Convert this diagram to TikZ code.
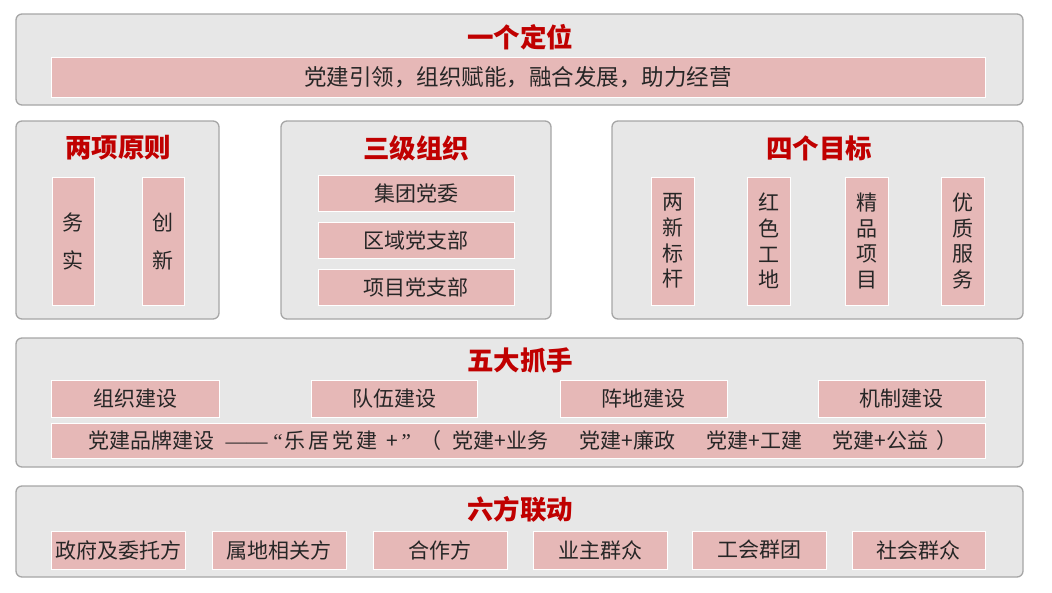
\documentclass[tikz,border=0pt]{standalone}
\usepackage{fontspec}
\setmainfont{Noto Sans CJK SC}
\newfontfamily\latinpunct{Liberation Serif}
\definecolor{panelfill}{HTML}{E7E7E7}
\definecolor{paneldraw}{HTML}{A6A6A6}
\definecolor{pinkfill}{HTML}{E6B8B7}
\definecolor{titlered}{HTML}{C00000}
\definecolor{bodytext}{HTML}{262626}
\tikzset{
  panel/.style={draw=paneldraw, line width=1.3pt, fill=panelfill, rounded corners=6pt, inner sep=0pt},
  pinkbar/.style={draw=white, line width=1pt, fill=pinkfill, inner sep=0pt, text=bodytext, font=\fontsize{21}{24}\selectfont},
  paneltitle/.style={text=titlered, font=\fontsize{26.5}{30}\selectfont\bfseries, inner sep=0pt},
  colbar/.style={pinkbar, align=center, minimum width=43pt, minimum height=128pt},
}
\begin{document}
\begin{tikzpicture}[x=1pt,y=-1pt]
\useasboundingbox (0,0) rectangle (1052,592);
\fill[white] (0,0) rectangle (1052,592);
% panels
\node[panel, minimum width=1007pt, minimum height=91pt] (pTop) at (519.5,59.5) {};
\node[panel, minimum width=203pt, minimum height=198pt] (pA) at (117.5,220) {};
\node[panel, minimum width=270pt, minimum height=198pt] (pB) at (416,220) {};
\node[panel, minimum width=411pt, minimum height=198pt] (pC) at (817.5,220) {};
\node[panel, minimum width=1007pt, minimum height=129pt] (pD) at (519.5,402.5) {};
\node[panel, minimum width=1007pt, minimum height=91pt] (pE) at (519.5,531.5) {};
% titles
\node[paneltitle] (tTop) at (520,37) {一个定位};
\node[paneltitle] (tA) at (118,148) {两项原则};
\node[paneltitle] (tB) at (416,148) {三级组织};
\node[paneltitle] (tC) at (819,148) {四个目标};
\node[paneltitle] (tD) at (520,360) {五大抓手};
\node[paneltitle] (tE) at (520,509) {六方联动};
% top bar
\node[pinkbar, minimum width=934pt, minimum height=40pt, font=\fontsize{22.5}{26}\selectfont] (bTop) at (518,77) {党建引领，组织赋能，融合发展，助力经营};
% two principles
\node[colbar, minimum width=42pt, font=\fontsize{21}{38}\selectfont] (a1) at (73,241) {务\\实};
\node[colbar, minimum width=42pt, font=\fontsize{21}{38}\selectfont] (a2) at (163,241) {创\\新};
% three levels
\node[pinkbar, minimum width=196pt, minimum height=36pt] (b1) at (416,193) {集团党委};
\node[pinkbar, minimum width=196pt, minimum height=36pt] (b2) at (416,240) {区域党支部};
\node[pinkbar, minimum width=196pt, minimum height=36pt] (b3) at (416,287.5) {项目党支部};
% four goals
\node[colbar, font=\fontsize{21}{25.7}\selectfont] (c1) at (672.5,241) {两\\新\\标\\杆};
\node[colbar, font=\fontsize{21}{25.7}\selectfont] (c2) at (769,241) {红\\色\\工\\地};
\node[colbar, font=\fontsize{21}{25.7}\selectfont] (c3) at (866.5,241) {精\\品\\项\\目};
\node[colbar, font=\fontsize{21}{25.7}\selectfont] (c4) at (963,241) {优\\质\\服\\务};
% five levers
\node[pinkbar, minimum width=168pt, minimum height=37pt] (d1) at (135,398.5) {组织建设};
\node[pinkbar, minimum width=166pt, minimum height=37pt] (d2) at (394,398.5) {队伍建设};
\node[pinkbar, minimum width=167pt, minimum height=37pt] (d3) at (643.5,398.5) {阵地建设};
\node[pinkbar, minimum width=167pt, minimum height=37pt] (d4) at (901.5,398.5) {机制建设};
\node[pinkbar, minimum width=934pt, minimum height=35pt] (d5) at (518,440.5) {};
\node[pinkbar, draw=none, fill=none, anchor=west] (d5t) at (88,440.5) {%
\makebox[137pt][l]{党建品牌建设}%
\makebox[48pt][l]{\latinpunct ——}%
\makebox[113pt][l]{{\latinpunct “}\hspace{2pt}乐\hspace{3pt}居\hspace{3pt}党\hspace{3pt}建}%
\makebox[15pt][l]{+}%
\makebox[19pt][l]{\latinpunct ”}%
\makebox[32pt][l]{（}%
\makebox[127pt][l]{党建+业务}%
\makebox[127pt][l]{党建+廉政}%
\makebox[126pt][l]{党建+工建}%
\makebox[104pt][l]{党建+公益}%
）};
% six parties
\node[pinkbar, minimum width=134pt, minimum height=38pt] (e1) at (118,550) {政府及委托方};
\node[pinkbar, minimum width=134pt, minimum height=38pt] (e2) at (279,550) {属地相关方};
\node[pinkbar, minimum width=134pt, minimum height=38pt] (e3) at (440,550) {合作方};
\node[pinkbar, minimum width=134pt, minimum height=38pt] (e4) at (600,550) {业主群众};
\node[pinkbar, minimum width=134pt, minimum height=38pt] (e5) at (759,550) {工会群团};
\node[pinkbar, minimum width=133pt, minimum height=38pt] (e6) at (918.5,550) {社会群众};
\end{tikzpicture}
\end{document}
